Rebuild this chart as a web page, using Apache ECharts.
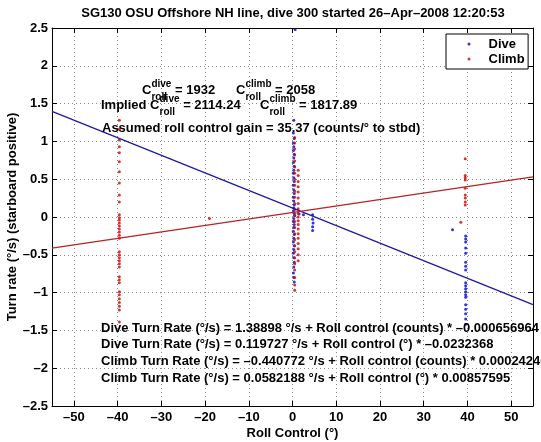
<!DOCTYPE html>
<html><head><meta charset="utf-8">
<script src="https://cdn.jsdelivr.net/npm/echarts@6/dist/echarts.min.js"></script>
<style>html,body{margin:0;padding:0;background:#fff}#c{width:541px;height:442px}</style>
</head><body><div id="c"></div>
<script>
// ---------- data ----------
const titleText = 'SG130 OSU Offshore NH line, dive 300 started 26\u2013Apr\u20132008 12:20:53';
const xTicks = [-50, -40, -30, -20, -10, 0, 10, 20, 30, 40, 50];
const seriesNames = ['Dive', 'Climb'];

const diveRoll = [0.6,
  0.3,0.2,0.4,0.2,0.3,0.2,0.4,0.3,0.2,0.4,0.3,0.2,0.3,0.4,0.2,0.3,0.4,0.2,0.3,0.4,0.3,0.2,0.4,0.5,0.3,0.2,0.4,0.3,0.2,0.4,0.3,0.2,0.4,0.3,0.2,0.3,0.4,0.3,0.2,0.3,0.4,
  1.5,2.5,4.6,4.6,4.7,4.6,4.6,
  36.6,39.6,39.6,39.6,39.6,39.6,39.6,39.6,39.6,39.6,39.6,39.6,39.6,39.6,39.6,39.6,39.6,39.6,39.6,39.6];
const diveRate = [2.48,
  1.28,1.11,1.04,0.98,0.93,0.88,0.83,0.78,0.72,0.67,0.62,0.58,0.52,0.47,0.42,0.36,0.31,0.26,0.21,0.16,0.12,0.08,0.05,0.02,-0.02,-0.06,-0.10,-0.14,-0.19,-0.23,-0.28,-0.33,-0.38,-0.43,-0.48,-0.54,-0.60,-0.66,-0.74,-0.80,-0.86,
  0.04,0.03,0.03,-0.03,-0.08,-0.13,-0.18,
  -0.17,-0.25,-0.29,-0.33,-0.41,-0.48,-0.60,-0.65,-0.70,-0.87,-0.91,-0.95,-0.99,-1.03,-1.06,-1.16,-1.22,-1.28,-1.35,-1.42];

const climbRoll = [
  -39.6,-39.6,-39.6,-39.6,-39.6,-39.6,-39.6,-39.6,-39.6,-39.6,-39.6,-39.6,-39.6,-39.6,-39.6,-39.6,-39.6,-39.6,-39.6,-39.6,-39.6,-39.6,-39.6,-39.6,-39.6,-39.6,-39.6,-39.6,-39.6,-39.6,-39.6,-39.6,-39.6,-39.6,-39.6,
  -19,
  0.5,0.5,0.5,0.5,0.5,0.5,0.5,0.5,0.5,0.5,0.5,0.5,0.5,0.5,0.5,0.5,0.5,0.5,0.5,0.5,0.5,0.5,0.5,0.5,0.5,0.5,
  1.3,1.3,1.3,1.3,1.3,1.3,1.3,1.3,1.3,1.3,1.3,1.3,1.3,1.3,1.3,1.3,1.3,1.3,1.3,
  39.5,39.5,39.5,39.5,39.5,39.5,39.5,39.5,39.5,38.5];
const climbRate = [
  1.28,1.16,1.02,0.93,0.85,0.73,0.60,0.45,0.29,0.20,0.03,-0.01,-0.04,-0.08,-0.12,-0.16,-0.20,-0.24,-0.28,-0.46,-0.50,-0.54,-0.58,-0.62,-0.66,-0.79,-0.83,-0.87,-0.99,-1.03,-1.08,-1.13,-1.18,-1.23,-1.39,
  -0.02,
  1.05,0.98,0.90,0.82,0.74,0.66,0.58,0.50,0.42,0.34,0.26,0.18,0.10,0.02,-0.06,-0.14,-0.22,-0.30,-0.38,-0.46,-0.54,-0.62,-0.70,-0.80,-0.90,-0.97,
  0.62,0.55,0.47,0.40,0.33,0.25,0.18,0.11,0.05,0.00,-0.05,-0.10,-0.16,-0.22,-0.28,-0.35,-0.42,-0.50,-0.58,
  0.77,0.55,0.52,0.49,0.38,0.29,0.25,0.20,0.16,-0.07];

// fit lines (end points)
const diveFitRoll = [-55, 55];
const diveFitRate = [1.398, -1.158];
const climbFitRoll = [-55, 55];
const climbFitRate = [-0.413, 0.530];

// annotation texts
const upperLine1 = [{base: 'C', sup: 'dive', sub: 'roll'}, ' = 1932', 236, {base: 'C', sup: 'climb', sub: 'roll'}, ' = 2058'];
const upperLine2 = ['Implied ', {base: 'C', sup: 'dive', sub: 'roll'}, ' = 2114.24', 260, {base: 'C', sup: 'climb', sub: 'roll'}, ' = 1817.89'];
const upperLine3 = ['Assumed roll control gain = 35.37 (counts/\u00b0 to stbd)'];
const fitLines = [
  'Dive Turn Rate (\u00b0/s) = 1.38898 \u00b0/s + Roll control (counts) * \u20130.000656964',
  'Dive Turn Rate (\u00b0/s) = 0.119727 \u00b0/s + Roll control (\u00b0) * \u20130.0232368',
  'Climb Turn Rate (\u00b0/s) = \u20130.440772 \u00b0/s + Roll control (counts) * 0.00024246',
  'Climb Turn Rate (\u00b0/s) = 0.0582188 \u00b0/s + Roll control (\u00b0) * 0.00857595'
];

// ---------- helpers ----------
const FONT = '"Liberation Sans", Arial, Helvetica, sans-serif';
const BLUE = '#0000d0', RED = '#d00000', BLUE_L = '#1c1ca0', RED_L = '#bb2222';
const ctx = document.createElement('canvas').getContext('2d');
function tw(t, size) { ctx.font = 'bold ' + size + 'px ' + FONT; return ctx.measureText(t).width; }
function txt(x, y, t, size) {
  return {type: 'text', x: x, y: y, z: 100, silent: true,
    style: {text: t, fontSize: size, fontWeight: 'bold', fontFamily: FONT, fill: '#000', verticalAlign: 'middle', align: 'left'}};
}
function mathLine(x, y, parts) {
  const els = []; let cx = x;
  parts.forEach(p => {
    if (typeof p === 'number') { cx = p; return; }
    if (typeof p === 'string') { els.push(txt(cx, y, p, 13)); cx += tw(p, 13); return; }
    els.push(txt(cx, y, p.base, 13)); cx += tw(p.base, 13);
    els.push(txt(cx, y - 5.5, p.sup, 10));
    els.push(txt(cx, y + 7.5, p.sub, 10));
    cx += Math.max(tw(p.sup, 10), tw(p.sub, 10));
  });
  return els;
}
const zip = (a, b) => a.map((v, i) => [v, b[i]]);
const fmt = v => (v < 0 ? '\u2013' : '') + Math.abs(Math.round(v * 100) / 100);

let graphics = [];
graphics = graphics.concat(mathLine(142, 90, upperLine1));
graphics = graphics.concat(mathLine(101, 105, upperLine2));
graphics = graphics.concat(mathLine(102, 128, upperLine3));
fitLines.forEach((s, i) => { graphics.push(txt(101, 328 + i * 16.7, s, 13)); });

const lblStyle = {color: '#000', fontSize: 13, fontWeight: 'bold', fontFamily: FONT};
const axisLine = {show: true, onZero: false, lineStyle: {color: '#000', width: 1}};
const tick = {show: true, inside: true, length: 5, lineStyle: {color: '#000'}};
const split = {show: true, lineStyle: {color: '#8a8a8a', width: 1, type: [1, 3]}};

const option = {
  animation: false,
  backgroundColor: '#fff',
  title: {text: titleText, left: 293, top: 7, padding: 0, textAlign: 'center',
    textStyle: {fontSize: 13, fontWeight: 'bold', fontFamily: FONT, color: '#000'}},
  legend: {data: seriesNames, orient: 'vertical', left: 446, top: 34, selectedMode: false,
    icon: 'circle', itemWidth: 3, itemHeight: 3, itemGap: 0, symbolKeepAspect: true,
    padding: [2.5, 3.5, 2.5, 21.5], backgroundColor: '#fff', borderColor: '#000', borderWidth: 1, borderRadius: 0,
    textStyle: {fontSize: 13, fontWeight: 'bold', fontFamily: FONT, color: '#000', lineHeight: 15, padding: [0, 0, 0, 13]}},
  grid: {left: 52, right: 8, top: 28, bottom: 36, containLabel: false, outerBoundsMode: 'none'},
  xAxis: [
    {type: 'value', position: 'bottom', min: -55, max: 55,
      name: 'Roll Control (\u00b0)', nameLocation: 'middle', nameGap: 21, nameMoveOverlap: false, nameTextStyle: lblStyle,
      axisLine: axisLine, axisTick: Object.assign({customValues: xTicks}, tick),
      axisLabel: Object.assign({customValues: xTicks, margin: 5, formatter: fmt}, lblStyle),
      splitLine: split},
    {type: 'value', position: 'top', min: -55, max: 55,
      axisLine: axisLine, axisTick: Object.assign({customValues: xTicks}, tick),
      axisLabel: {show: false}, splitLine: {show: false}}
  ],
  yAxis: [
    {type: 'value', position: 'left', min: -2.5, max: 2.5, interval: 0.5,
      name: 'Turn rate (\u00b0/s) (starboard positive)', nameLocation: 'middle', nameGap: 33, nameRotate: 90, nameMoveOverlap: false, nameTextStyle: lblStyle,
      axisLine: axisLine, axisTick: tick,
      axisLabel: Object.assign({margin: 4, formatter: fmt, showMinLabel: true, showMaxLabel: true}, lblStyle),
      splitLine: split},
    {type: 'value', position: 'right', min: -2.5, max: 2.5, interval: 0.5,
      axisLine: axisLine, axisTick: tick, axisLabel: {show: false}, splitLine: {show: false}}
  ],
  series: [
    {name: 'Dive', type: 'scatter', data: zip(diveRoll, diveRate), symbol: 'circle', symbolSize: 3,
      itemStyle: {color: BLUE}, z: 3},
    {name: 'Climb', type: 'scatter', data: zip(climbRoll, climbRate), symbol: 'circle', symbolSize: 3,
      itemStyle: {color: RED}, z: 3},
    {name: 'Dive fit', type: 'line', data: zip(diveFitRoll, diveFitRate), showSymbol: false, symbol: 'none',
      lineStyle: {color: BLUE_L, width: 1.3}, itemStyle: {color: BLUE_L}, z: 4},
    {name: 'Climb fit', type: 'line', data: zip(climbFitRoll, climbFitRate), showSymbol: false, symbol: 'none',
      lineStyle: {color: RED_L, width: 1.3}, itemStyle: {color: RED_L}, z: 4}
  ],
  graphic: graphics
};
const chart = echarts.init(document.getElementById('c'), null, {renderer: 'canvas'});
chart.setOption(option);
</script></body></html>
